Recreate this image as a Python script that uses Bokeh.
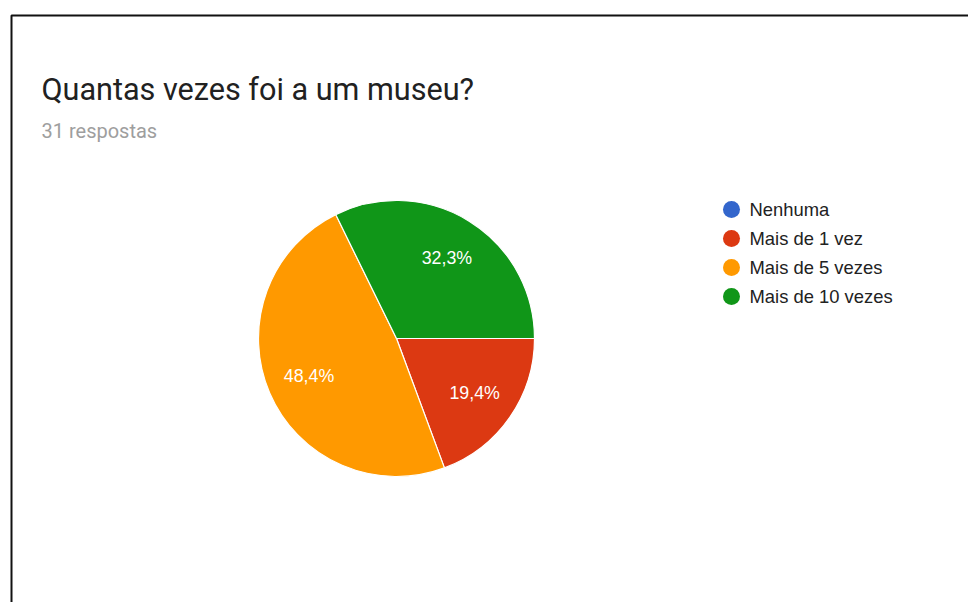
import math
from bokeh.plotting import figure
from bokeh.models import Range1d, ColumnDataSource
from bokeh.core.properties import value
from bokeh.embed import file_html
from bokeh.resources import INLINE

# ---- data ----
title_text = "Quantas vezes foi a um museu?"
subtitle_text = "31 respostas"
categories = ["Nenhuma", "Mais de 1 vez", "Mais de 5 vezes", "Mais de 10 vezes"]
counts = [0, 6, 15, 10]
colors = ["#3366cc", "#dc3912", "#ff9900", "#109618"]

W, H = 968, 602
p = figure(width=W, height=H, output_backend="svg", toolbar_location=None,
           x_range=Range1d(0, W), y_range=Range1d(0, H), min_border=0,
           background_fill_color="white", border_fill_color="white")
p.axis.visible = False
p.grid.visible = False
p.outline_line_color = None


def sx(x):  # screen x -> data x
    return x


def sy(y):  # screen y -> data y
    return H - y


# border frame
p.line([sx(11), sx(11), W + 10], [-10, sy(15), sy(15)], line_color="#111111", line_width=2)

# titles
p.text([sx(41)], [sy(89)], text=[title_text], text_font=value("Roboto"),
       text_font_size="30.6px", text_color="#212121", text_baseline="alphabetic")
p.text([sx(41)], [sy(130)], text=[subtitle_text], text_font=value("Roboto"),
       text_font_size="20px", text_color="#9e9e9e", text_baseline="alphabetic")

# pie
cx, cy, r = sx(396), sy(338), 138
total = sum(counts)
starts, ends, cols, lx, ly, labs = [], [], [], [], [], []
cum = 0.0
for c, col in zip(counts, colors):
    frac = c / total
    if c > 0:
        a0 = -cum * 2 * math.pi
        a1 = -(cum + frac) * 2 * math.pi
        starts.append(a0)
        ends.append(a1)
        cols.append(col)
        mid = (a0 + a1) / 2
        lx.append(cx + 0.69 * r * math.cos(mid))
        ly.append(cy + 0.69 * r * math.sin(mid))
        labs.append(f"{frac * 100:.1f}".replace(".", ",") + "%")
    cum += frac

src = ColumnDataSource(dict(s=starts, e=ends, c=cols))
p.wedge(x=cx, y=cy, radius=r, start_angle="s", end_angle="e", direction="clock",
        fill_color="c", line_color="white", line_width=1.2, source=src)
p.text(lx, ly, text=labs, text_font=value("Liberation Sans"), text_font_size="17.8px",
       text_color="white", text_align="center", text_baseline="middle")

# legend
leg_y = [sy(209 + 29 * i) for i in range(len(categories))]
p.scatter([sx(731)] * len(categories), leg_y, size=17, marker="circle",
          fill_color=colors, line_color=None)
p.text([sx(749)] * len(categories), leg_y, text=categories,
       text_font=value("Liberation Sans"), text_font_size="18.4px",
       text_color="#222222", text_baseline="middle")

open("out.html", "w").write(file_html(p, INLINE))
